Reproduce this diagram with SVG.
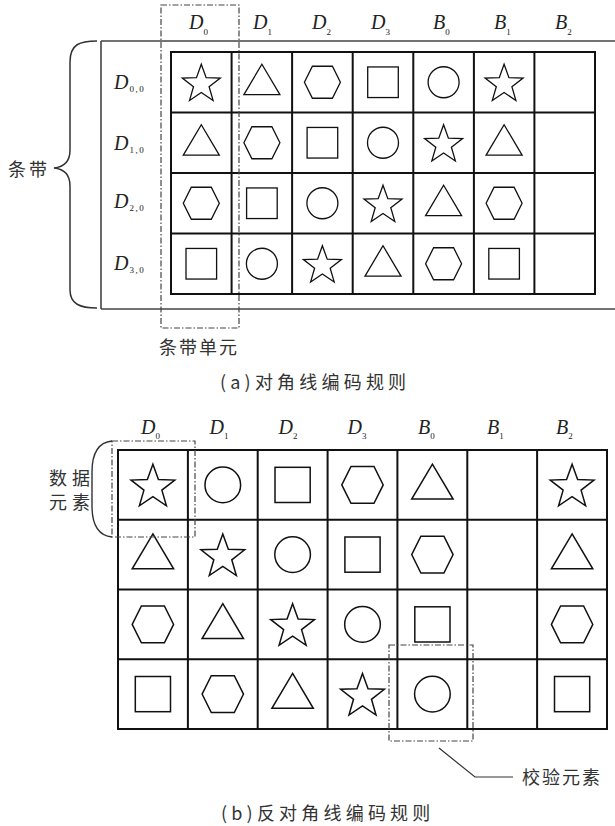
<svg xmlns="http://www.w3.org/2000/svg" xmlns:xlink="http://www.w3.org/1999/xlink" width="615" height="826" viewBox="0 0 615 826">
<style>
.shp{fill:none;stroke:#111;stroke-width:1.3;stroke-linejoin:miter}
.grid{fill:none;stroke:#111;stroke-width:2}
.frame{fill:none;stroke:#444;stroke-width:1.6}
.dd{fill:none;stroke:#444;stroke-width:1.2;stroke-dasharray:6 2 1.5 2}
.lbl{font-family:"Liberation Serif",serif;font-style:italic;font-size:20px;fill:#222}
.sub{font-style:normal;font-size:9px}
.cn{font-family:"Noto Sans CJK SC",sans-serif;font-size:18px;fill:#333}
</style>
<defs>
<polygon id="star" class="shp" points="0,-18 4.82,-4.63 19.02,-4.18 7.8,4.53 11.76,18.18 0,10.2 -11.76,18.18 -7.8,4.53 -19.02,-4.18 -4.82,-4.63"/>
<polygon id="tri" class="shp" points="0,-18 18,12.3 -18,12.3"/>
<polygon id="hex" class="shp" points="-18,0 -10,-16 10,-16 18,0 10,16 -10,16"/>
<rect id="sq" class="shp" x="-15.3" y="-15.3" width="30.6" height="30.6"/>
<circle id="circ" class="shp" r="15.5"/>
</defs>

<!-- ===== (a) ===== -->
<g id="frameA">
<path class="frame" d="M101,41 H615 M101,41 V309 M101,309 H615"/>
</g>
<g id="braceA">
<path fill="none" stroke="#333" stroke-width="1.5" d="M97,41 C80,41 70,44 70,62 L70,150 C70,162 64,167 54,168 C64,169 70,174 70,186 L70,290 C70,304 80,308 97,308"/>
<text class="cn" x="8" y="176" font-size="19" letter-spacing="3">条带</text>
</g>
<g id="headersA">
<text class="lbl" x="189" y="29">D<tspan class="sub" dy="5.5">0</tspan></text>
<text class="lbl" x="253" y="29">D<tspan class="sub" dy="5.5">1</tspan></text>
<text class="lbl" x="312" y="29">D<tspan class="sub" dy="5.5">2</tspan></text>
<text class="lbl" x="371" y="29">D<tspan class="sub" dy="5.5">3</tspan></text>
<text class="lbl" x="433" y="29">B<tspan class="sub" dy="5.5">0</tspan></text>
<text class="lbl" x="494" y="29">B<tspan class="sub" dy="5.5">1</tspan></text>
<text class="lbl" x="555" y="29">B<tspan class="sub" dy="5.5">2</tspan></text>
</g>
<g id="rowsA">
<text class="lbl" x="114" y="89">D<tspan class="sub" dy="3" dx="1" letter-spacing="1.5">0,0</tspan></text>
<text class="lbl" x="114" y="149.5">D<tspan class="sub" dy="3" dx="1" letter-spacing="1.5">1,0</tspan></text>
<text class="lbl" x="114" y="207.5">D<tspan class="sub" dy="3" dx="1" letter-spacing="1.5">2,0</tspan></text>
<text class="lbl" x="114" y="269.5">D<tspan class="sub" dy="3" dx="1" letter-spacing="1.5">3,0</tspan></text>
</g>
<g id="gridA">
<rect class="grid" x="171" y="52" width="424" height="242"/>
<path class="grid" d="M231.6,52 V294 M292.1,52 V294 M352.7,52 V294 M413.3,52 V294 M473.9,52 V294 M534.4,52 V294 M171,112.5 H595 M171,173 H595 M171,233.5 H595"/>
</g>
<g id="cellsA">
<use href="#star" x="201.3" y="82.25"/><use href="#tri" x="261.9" y="82.25"/><use href="#hex" x="322.4" y="82.25"/><use href="#sq" x="383" y="82.25"/><use href="#circ" x="443.6" y="82.25"/><use href="#star" x="504.1" y="82.25"/>
<use href="#tri" x="201.3" y="142.75"/><use href="#hex" x="261.9" y="142.75"/><use href="#sq" x="322.4" y="142.75"/><use href="#circ" x="383" y="142.75"/><use href="#star" x="443.6" y="142.75"/><use href="#tri" x="504.1" y="142.75"/>
<use href="#hex" x="201.3" y="203.25"/><use href="#sq" x="261.9" y="203.25"/><use href="#circ" x="322.4" y="203.25"/><use href="#star" x="383" y="203.25"/><use href="#tri" x="443.6" y="203.25"/><use href="#hex" x="504.1" y="203.25"/>
<use href="#sq" x="201.3" y="263.75"/><use href="#circ" x="261.9" y="263.75"/><use href="#star" x="322.4" y="263.75"/><use href="#tri" x="383" y="263.75"/><use href="#hex" x="443.6" y="263.75"/><use href="#sq" x="504.1" y="263.75"/>
</g>
<g id="stripUnit">
<rect class="dd" x="161" y="5" width="78" height="323"/>
<text class="cn" x="159" y="354" letter-spacing="2">条带单元</text>
</g>
<g id="captionA">
<text class="cn" x="220" y="389" letter-spacing="4.2">(a)对角线编码规则</text>
</g>

<!-- ===== (b) ===== -->
<g id="headersB">
<text class="lbl" x="141" y="433.5">D<tspan class="sub" dy="5.5">0</tspan></text>
<text class="lbl" x="209.5" y="433.5">D<tspan class="sub" dy="5.5">1</tspan></text>
<text class="lbl" x="278.5" y="433.5">D<tspan class="sub" dy="5.5">2</tspan></text>
<text class="lbl" x="347.5" y="433.5">D<tspan class="sub" dy="5.5">3</tspan></text>
<text class="lbl" x="418" y="433.5">B<tspan class="sub" dy="5.5">0</tspan></text>
<text class="lbl" x="487" y="433.5">B<tspan class="sub" dy="5.5">1</tspan></text>
<text class="lbl" x="556" y="433.5">B<tspan class="sub" dy="5.5">2</tspan></text>
</g>
<g id="gridB">
<rect class="grid" x="118" y="450" width="489" height="279"/>
<path class="grid" d="M187.9,450 V729 M257.7,450 V729 M327.6,450 V729 M397.4,450 V729 M467.3,450 V729 M537.1,450 V729 M118,519.75 H607 M118,589.5 H607 M118,659.25 H607"/>
</g>
<g id="cellsB">
<g transform="translate(152.9,484.9) scale(1.15)"><use href="#star"/></g>
<g transform="translate(222.8,484.9) scale(1.15)"><use href="#circ"/></g>
<g transform="translate(292.6,484.9) scale(1.15)"><use href="#sq"/></g>
<g transform="translate(362.5,484.9) scale(1.15)"><use href="#hex"/></g>
<g transform="translate(432.4,484.9) scale(1.15)"><use href="#tri"/></g>
<g transform="translate(572.1,484.9) scale(1.15)"><use href="#star"/></g>
<g transform="translate(152.9,554.6) scale(1.15)"><use href="#tri"/></g>
<g transform="translate(222.8,554.6) scale(1.15)"><use href="#star"/></g>
<g transform="translate(292.6,554.6) scale(1.15)"><use href="#circ"/></g>
<g transform="translate(362.5,554.6) scale(1.15)"><use href="#sq"/></g>
<g transform="translate(432.4,554.6) scale(1.15)"><use href="#hex"/></g>
<g transform="translate(572.1,554.6) scale(1.15)"><use href="#tri"/></g>
<g transform="translate(152.9,624.4) scale(1.15)"><use href="#hex"/></g>
<g transform="translate(222.8,624.4) scale(1.15)"><use href="#tri"/></g>
<g transform="translate(292.6,624.4) scale(1.15)"><use href="#star"/></g>
<g transform="translate(362.5,624.4) scale(1.15)"><use href="#circ"/></g>
<g transform="translate(432.4,624.4) scale(1.15)"><use href="#sq"/></g>
<g transform="translate(572.1,624.4) scale(1.15)"><use href="#hex"/></g>
<g transform="translate(152.9,694.1) scale(1.15)"><use href="#sq"/></g>
<g transform="translate(222.8,694.1) scale(1.15)"><use href="#hex"/></g>
<g transform="translate(292.6,694.1) scale(1.15)"><use href="#tri"/></g>
<g transform="translate(362.5,694.1) scale(1.15)"><use href="#star"/></g>
<g transform="translate(432.4,694.1) scale(1.15)"><use href="#circ"/></g>
<g transform="translate(572.1,694.1) scale(1.15)"><use href="#sq"/></g>
</g>
<g id="dataElement">
<rect class="dd" x="112" y="441" width="83" height="96"/>
<path fill="none" stroke="#333" stroke-width="1.4" d="M112,441 Q92,443 92,472 L92,506 Q92,535 112,537"/>
<text class="cn" font-size="16" letter-spacing="5"><tspan x="49" y="484.5">数据</tspan><tspan x="49" y="508.5">元素</tspan></text>
</g>
<g id="checkElement">
<rect class="dd" x="389" y="645" width="84" height="96"/>
<text class="cn" x="522" y="784" letter-spacing="2">校验元素</text>
</g>
<g id="connectors">
<path fill="none" stroke="#333" stroke-width="1.2" d="M439,748 L475,777 H513"/>
</g>
<g id="captionB">
<text class="cn" x="221" y="820" letter-spacing="4.2">(b)反对角线编码规则</text>
</g>
</svg>
